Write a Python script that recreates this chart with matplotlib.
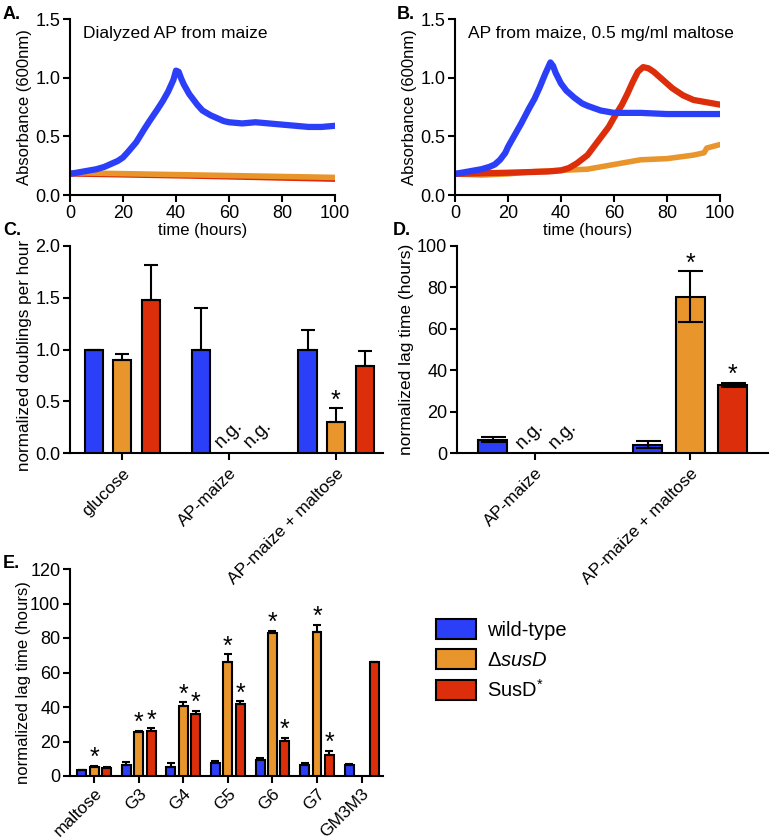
import numpy as np
import matplotlib
matplotlib.use("Agg")
import matplotlib.pyplot as plt
from matplotlib.patches import Patch

plt.rcParams['font.family'] = ['Liberation Sans', 'DejaVu Sans']
plt.rcParams['mathtext.fontset'] = 'custom'
plt.rcParams['mathtext.rm'] = 'Liberation Sans'
plt.rcParams['mathtext.it'] = 'Liberation Sans:italic'

BLUE = '#2B3EF8'
ORANGE = '#E8952B'
RED = '#DC2E0A'

# ---------------- Panel A data ----------------
a_blue_t = [0, 5, 10, 13, 15, 18, 20, 22, 25, 28, 30, 33, 35, 37, 39, 40, 41, 42, 43, 45, 48, 50, 53, 55, 58, 60, 65, 70, 75, 80, 85, 90, 95, 100]
a_blue_y = [0.18, 0.20, 0.22, 0.24, 0.26, 0.29, 0.32, 0.37, 0.45, 0.56, 0.63, 0.73, 0.80, 0.88, 0.98, 1.06, 1.05, 0.99, 0.94, 0.86, 0.77, 0.72, 0.68, 0.66, 0.63, 0.62, 0.61, 0.62, 0.61, 0.60, 0.59, 0.58, 0.58, 0.59]
a_orange_t = [0, 50, 100]
a_orange_y = [0.19, 0.17, 0.15]
a_red_t = [0, 50, 100]
a_red_y = [0.18, 0.16, 0.135]

# ---------------- Panel B data ----------------
b_blue_t = [0, 5, 10, 13, 15, 17, 19, 20, 22, 25, 28, 30, 32, 34, 36, 37, 38, 40, 42, 45, 48, 50, 55, 60, 65, 70, 80, 90, 100]
b_blue_y = [0.18, 0.20, 0.22, 0.24, 0.26, 0.30, 0.36, 0.41, 0.49, 0.61, 0.74, 0.82, 0.92, 1.03, 1.13, 1.10, 1.04, 0.95, 0.89, 0.83, 0.78, 0.76, 0.72, 0.70, 0.70, 0.70, 0.69, 0.69, 0.69]
b_red_t = [0, 20, 35, 40, 43, 46, 50, 52, 55, 58, 60, 63, 65, 67, 69, 71, 73, 75, 78, 82, 86, 90, 95, 100]
b_red_y = [0.18, 0.19, 0.20, 0.21, 0.23, 0.27, 0.34, 0.40, 0.49, 0.58, 0.66, 0.77, 0.86, 0.96, 1.05, 1.09, 1.08, 1.05, 0.99, 0.91, 0.85, 0.81, 0.79, 0.77]
b_orange_t = [0, 10, 20, 30, 40, 50, 55, 60, 65, 70, 80, 90, 94, 95, 100]
b_orange_y = [0.18, 0.17, 0.18, 0.20, 0.21, 0.22, 0.24, 0.26, 0.28, 0.30, 0.31, 0.34, 0.36, 0.40, 0.43]

# ---------------- Panel C data ----------------
c_groups = ['glucose', 'AP-maize', 'AP-maize + maltose']
c_wt = [1.0, 1.0, 1.0]
c_wt_err = [0.0, 0.40, 0.19]
c_dsusd = [0.90, np.nan, 0.30]
c_dsusd_err = [0.06, np.nan, 0.13]
c_star = [1.48, np.nan, 0.84]
c_star_err = [0.34, np.nan, 0.15]

# ---------------- Panel D data ----------------
d_groups = ['AP-maize', 'AP-maize + maltose']
d_wt = [6.5, 4.0]
d_wt_err = [1.0, 1.6]
d_dsusd = [np.nan, 75.5]
d_dsusd_err = [np.nan, 12.3]
d_star = [np.nan, 33.0]
d_star_err = [np.nan, 1.0]

# ---------------- Panel E data ----------------
e_groups = ['maltose', 'G3', 'G4', 'G5', 'G6', 'G7', 'GM3M3']
e_wt = [3.2, 6.4, 5.4, 7.3, 9.3, 6.4, 6.4]
e_wt_err = [0.5, 1.9, 2.3, 1.6, 0.9, 0.9, 0.6]
e_dsusd = [5.0, 25.3, 40.7, 65.8, 83.0, 83.2, np.nan]
e_dsusd_err = [0.8, 0.8, 2.0, 4.7, 1.0, 4.6, np.nan]
e_star = [4.6, 26.2, 35.9, 41.5, 20.5, 12.2, 65.8]
e_star_err = [0.5, 1.4, 1.9, 1.7, 1.7, 2.3, 0.0]

legend_labels = ['wild-type', r'$\mathit{\Delta susD}$', r'SusD$^{*}$']

FS = 12.5
TFS = 13
W, H = 771, 839
fig = plt.figure(figsize=(W / 100, H / 100), dpi=100)


def rect(l, t, r, b):
    return [l / W, 1 - b / H, (r - l) / W, (b - t) / H]


def style(ax):
    ax.set_facecolor('none')
    for s in ['top', 'right']:
        ax.spines[s].set_visible(False)
    for s in ['left', 'bottom']:
        ax.spines[s].set_linewidth(1.5)
    ax.tick_params(axis='both', width=1.5, length=5, labelsize=TFS, pad=2)


# ---- A ----
axA = fig.add_axes(rect(70, 19, 335, 195))
style(axA)
axA.plot(a_red_t, a_red_y, color=RED, lw=4, solid_capstyle='round')
axA.plot(a_orange_t, a_orange_y, color=ORANGE, lw=4, solid_capstyle='round')
axA.plot(a_blue_t, a_blue_y, color=BLUE, lw=4.5, solid_capstyle='round', solid_joinstyle='round')
axA.set_xlim(0, 100)
axA.set_ylim(0, 1.5)
axA.set_xticks([0, 20, 40, 60, 80, 100])
axA.set_yticks([0.0, 0.5, 1.0, 1.5])
axA.set_yticklabels(['0.0', '0.5', '1.0', '1.5'])
axA.set_xlabel('time (hours)', fontsize=12, labelpad=1)
axA.set_ylabel('Absorbance (600nm)', fontsize=12, labelpad=2)
axA.text(0.05, 0.92, 'Dialyzed AP from maize', transform=axA.transAxes, fontsize=FS, va='center')

# ---- B ----
axB = fig.add_axes(rect(455, 19, 720, 195))
style(axB)
axB.plot(b_orange_t, b_orange_y, color=ORANGE, lw=4, solid_capstyle='round', solid_joinstyle='round')
axB.plot(b_red_t, b_red_y, color=RED, lw=4.5, solid_capstyle='round', solid_joinstyle='round')
axB.plot(b_blue_t, b_blue_y, color=BLUE, lw=4.5, solid_capstyle='round', solid_joinstyle='round')
axB.set_xlim(0, 100)
axB.set_ylim(0, 1.5)
axB.set_xticks([0, 20, 40, 60, 80, 100])
axB.set_yticks([0.0, 0.5, 1.0, 1.5])
axB.set_yticklabels(['0.0', '0.5', '1.0', '1.5'])
axB.set_xlabel('time (hours)', fontsize=12, labelpad=1)
axB.set_ylabel('Absorbance (600nm)', fontsize=12, labelpad=2)
axB.text(0.05, 0.92, 'AP from maize, 0.5 mg/ml maltose', transform=axB.transAxes, fontsize=FS, va='center')


def bars(ax, groups, series, errs, offs, width, two_sided=False, capsize=4, xfs=12.5, xpad=4):
    x = np.arange(len(groups))
    for vals, err, off, col in zip(series, errs, offs, [BLUE, ORANGE, RED]):
        vals = np.array(vals, dtype=float)
        err = np.array(err, dtype=float)
        ax.bar(x + off, vals, width, color=col, edgecolor='black', linewidth=1.5, zorder=3)
        if two_sided:
            yerr = [err, err]
        else:
            yerr = [np.zeros_like(err), err]
        ax.errorbar(x + off, vals, yerr=yerr, fmt='none', ecolor='black', elinewidth=1.5,
                    capsize=capsize, capthick=1.5, zorder=4)
    ax.set_xticks(x)
    ax.set_xticklabels(groups, rotation=45, ha='right', va='top', rotation_mode='anchor', fontsize=xfs)
    ax.tick_params(axis='x', pad=xpad)


def star(ax, x, y, fs=18):
    ax.annotate('*', (x, y), xytext=(0, -3), textcoords='offset points', ha='center', va='bottom', fontsize=fs)


# ---- C ----
axC = fig.add_axes(rect(70, 246, 383, 453))
style(axC)
offC = [-0.265, 0.0, 0.27]
bars(axC, c_groups, [c_wt, c_dsusd, c_star], [c_wt_err, c_dsusd_err, c_star_err], offC, 0.17, capsize=5)
axC.set_xlim(-0.486, 2.44)
axC.set_ylim(0, 2.0)
axC.set_yticks([0.0, 0.5, 1.0, 1.5, 2.0])
axC.set_yticklabels(['0.0', '0.5', '1.0', '1.5', '2.0'])
axC.set_ylabel('normalized doublings per hour', fontsize=12.3)
axC.yaxis.set_label_coords(-0.12, 0.47)
axC.text(1 + offC[1], 0.02, 'n.g.', rotation=45, ha='center', va='bottom', fontsize=13.5)
axC.text(1 + offC[2], 0.02, 'n.g.', rotation=45, ha='center', va='bottom', fontsize=13.5)
star(axC, 2 + offC[1], c_dsusd[2] + c_dsusd_err[2])

# ---- D ----
axD = fig.add_axes(rect(457, 246, 768, 453))
style(axD)
offD = [-0.274, 0.0, 0.277]
bars(axD, d_groups, [d_wt, d_dsusd, d_star], [d_wt_err, d_dsusd_err, d_star_err], offD, 0.187,
     two_sided=True, capsize=9)
axD.set_xlim(-0.503, 1.503)
axD.set_ylim(0, 100)
axD.set_yticks([0, 20, 40, 60, 80, 100])
axD.set_ylabel('normalized lag time (hours)', fontsize=12.5, labelpad=2)
axD.text(-0.03, 0.5, 'n.g.', rotation=45, ha='center', va='bottom', fontsize=13.5)
axD.text(0.18, 0.5, 'n.g.', rotation=45, ha='center', va='bottom', fontsize=13.5)
star(axD, 1 + offD[1], d_dsusd[1] + d_dsusd_err[1])
star(axD, 1 + offD[2], d_star[1] + d_star_err[1])

# ---- E ----
axE = fig.add_axes(rect(70, 569, 383, 776))
style(axE)
offE = [-0.277, 0.0, 0.28]
bars(axE, e_groups, [e_wt, e_dsusd, e_star], [e_wt_err, e_dsusd_err, e_star_err], offE, 0.2,
     capsize=3, xfs=12.5, xpad=2)
axE.set_xlim(-0.54, 6.48)
axE.set_ylim(0, 120)
axE.set_yticks([0, 20, 40, 60, 80, 100, 120])
axE.set_ylabel('normalized lag time (hours)', fontsize=12)
axE.yaxis.set_label_coords(-0.125, 0.45)
for i in range(6):
    star(axE, i + offE[1], e_dsusd[i] + e_dsusd_err[i])
for i in range(1, 6):
    star(axE, i + offE[2], e_star[i] + e_star_err[i])

# ---- legend ----
handles = [Patch(facecolor=c, edgecolor='black', linewidth=1.5) for c in [BLUE, ORANGE, RED]]
fig.legend(handles, legend_labels, loc='upper left', bbox_to_anchor=(436 / W, 1 - 619 / H),
           frameon=False, fontsize=14.5, handlelength=2.0, handleheight=1.15,
           handletextpad=0.55, labelspacing=0.45, borderpad=0, borderaxespad=0)

# ---- panel labels ----
for lab, x, y in [('A.', 3, 6), ('B.', 397, 6), ('C.', 3, 222), ('D.', 393, 222), ('E.', 3, 555)]:
    fig.text(x / W, 1 - y / H, lab, fontsize=13, fontweight='bold', va='top', ha='left')

fig.savefig('out.png', dpi=100)
